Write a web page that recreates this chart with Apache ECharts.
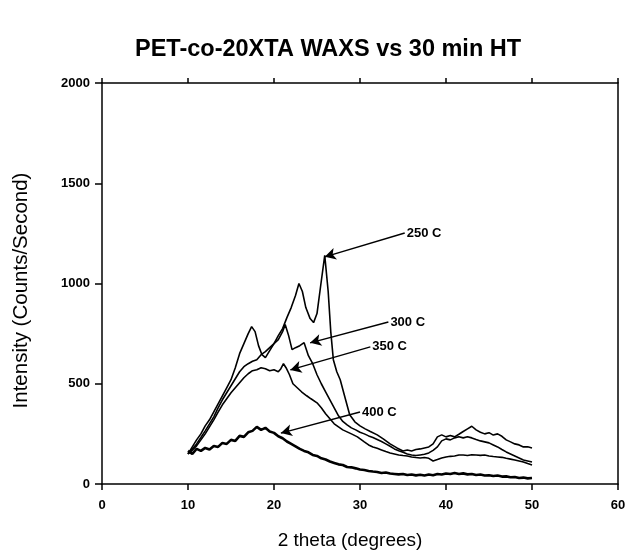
<!DOCTYPE html>
<html>
<head>
<meta charset="utf-8">
<script src="https://cdn.jsdelivr.net/npm/echarts@6/dist/echarts.min.js"></script>
<style>html,body{margin:0;padding:0;background:#fff;}#c{width:629px;height:550px;}</style>
</head>
<body>
<div id="c"></div>
<script>
// ---- data (2 theta in degrees, intensity in counts/second) ----
const xTicks = [0, 10, 20, 30, 40, 50, 60];
const yTicks = [0, 500, 1000, 1500, 2000];

const c250 = [[10,150],[10.5,185],[11,220],[11.5,250],[12,290],[12.5,320],[13,360],[13.5,400],[14,440],[14.5,480],[15,520],[15.5,580],[16,650],[16.5,700],[17,750],[17.4,785],[17.8,760],[18.2,690],[18.6,645],[19,630],[19.5,665],[20,700],[20.5,740],[21,775],[21.5,830],[22,880],[22.5,940],[22.9,1000],[23.3,960],[23.7,880],[24.2,825],[24.6,805],[25,850],[25.4,980],[25.9,1140],[26.3,960],[26.6,760],[26.9,620],[27.3,560],[27.7,520],[28.2,440],[28.8,345],[29.4,310],[30,290],[30.6,275],[31.2,262],[32,245],[32.7,225],[33.5,200],[34.3,180],[35,165],[35.5,170],[36,165],[36.5,172],[37,175],[37.5,180],[38,185],[38.5,200],[39,235],[39.5,245],[40,235],[40.5,242],[41,235],[41.5,248],[42,262],[42.5,275],[43,288],[43.5,270],[44,258],[44.5,250],[45,256],[45.5,244],[46,250],[46.5,238],[47,220],[47.5,210],[48,200],[48.5,195],[49,185],[49.5,186],[50,180]];

const c300 = [[10,150],[10.5,175],[11,200],[11.5,232],[12,265],[12.5,300],[13,335],[13.5,380],[14,420],[14.5,455],[15,490],[15.5,525],[16,560],[16.5,585],[17,600],[17.5,612],[18,620],[18.5,645],[19,660],[19.5,680],[20,700],[20.5,720],[21,760],[21.3,795],[21.7,740],[22.1,670],[22.5,680],[23,690],[23.5,705],[24,640],[24.5,600],[25,545],[25.5,500],[26,460],[26.5,420],[27,380],[27.5,340],[28,312],[28.5,295],[29,280],[29.5,270],[30,258],[30.5,250],[31,240],[31.5,232],[32,222],[32.5,212],[33,200],[33.5,188],[34,175],[34.5,166],[35,158],[35.5,150],[36,145],[36.5,142],[37,145],[37.5,148],[38,155],[38.5,168],[39,185],[39.5,215],[40,225],[40.5,220],[41,230],[41.5,236],[42,230],[42.5,236],[43,230],[43.5,222],[44,215],[44.5,210],[45,205],[45.5,195],[46,185],[46.5,172],[47,160],[47.5,150],[48,140],[48.5,130],[49,120],[49.5,115],[50,110]];

const c350 = [[10,150],[10.5,168],[11,190],[11.5,220],[12,250],[12.5,285],[13,320],[13.5,358],[14,395],[14.5,425],[15,455],[15.5,480],[16,505],[16.5,530],[17,550],[17.5,565],[18,570],[18.5,580],[19,575],[19.5,565],[20,570],[20.5,560],[20.8,575],[21.1,600],[21.4,580],[21.8,545],[22.2,500],[22.7,480],[23.2,460],[23.8,440],[24.3,425],[25,405],[25.5,380],[26,350],[26.5,325],[27,300],[27.5,285],[28,270],[28.5,260],[29,250],[29.7,235],[30.5,210],[31,195],[31.5,185],[32,178],[32.5,170],[33,162],[33.5,155],[34,150],[34.5,145],[35,142],[35.5,140],[36,135],[36.5,132],[37,130],[37.5,132],[38,128],[38.5,115],[39,122],[39.5,130],[40,135],[40.5,138],[41,140],[41.5,145],[42,145],[42.5,142],[43,146],[43.5,145],[44,143],[44.5,145],[45,140],[45.5,137],[46,135],[46.5,133],[47,128],[47.5,124],[48,120],[48.5,115],[49,110],[49.5,102],[50,95]];

const c400 = [[10,165],[10.5,150],[11,175],[11.5,165],[12,180],[12.5,172],[13,190],[13.5,185],[14,205],[14.5,200],[15,220],[15.5,215],[16,240],[16.5,235],[17,258],[17.5,265],[18,285],[18.5,270],[19,280],[19.5,262],[20,255],[20.5,238],[21,228],[21.5,212],[22,200],[22.5,188],[23,175],[23.5,165],[24,158],[24.5,145],[25,140],[25.5,128],[26,122],[26.5,112],[27,105],[27.5,98],[28,95],[28.5,85],[29,83],[29.5,78],[30,72],[30.5,70],[31,65],[31.5,62],[32,60],[32.5,55],[33,57],[33.5,52],[34,50],[34.5,48],[35,50],[35.5,45],[36,47],[36.5,43],[37,46],[37.5,42],[38,47],[38.5,44],[39,50],[39.5,47],[40,52],[40.5,50],[41,55],[41.5,50],[42,53],[42.5,48],[43,50],[43.5,45],[44,47],[44.5,42],[45,44],[45.5,40],[46,42],[46.5,37],[47,38],[47.5,34],[48,35],[48.5,30],[49,32],[49.5,28],[50,30]];

const seriesNames = ['250 C', '300 C', '350 C', '400 C'];
// annotation arrows: [tail, tip] in data coordinates, label placed at tail
const arrowTails = [[35.2, 1252], [33.3, 808], [31.2, 684], [30.0, 359]];
const arrowTips  = [[25.9, 1133], [24.2, 704], [21.9, 569], [20.8, 254]];

// ---- chart ----
const FONT = 'Liberation Sans, Arial, Helvetica, sans-serif';
const chart = echarts.init(document.getElementById('c'), null, {renderer: 'canvas'});
const curves = [c250, c300, c350, c400];

const series = curves.map((d, i) => ({
  name: seriesNames[i],
  type: 'line',
  data: d,
  showSymbol: false,
  symbol: 'none',
  smooth: false,
  lineStyle: {color: '#000', width: i === 3 ? 2.6 : 1.6},
  z: 3,
  markLine: {
    silent: true,
    symbol: ['none', 'arrow'],
    symbolSize: [9, 11],
    lineStyle: {color: '#000', width: 1.4, type: 'solid'},
    label: {show: false},
    data: [[{coord: arrowTails[i]}, {coord: arrowTips[i]}]]
  },
  markPoint: {
    silent: true,
    symbol: 'circle',
    symbolSize: 0,
    data: [{
      coord: arrowTails[i],
      label: {
        show: true, position: 'right', distance: 2,
        formatter: seriesNames[i],
        color: '#000', fontFamily: FONT, fontWeight: 'bold', fontSize: 13
      }
    }]
  }
}));

const axisLine = {show: true, onZero: false, lineStyle: {color: '#000', width: 1.5}};

chart.setOption({
  animation: false,
  backgroundColor: '#fff',
  title: {
    text: 'PET-co-20XTA WAXS vs 30 min HT',
    left: 130,
    top: 33,
    textStyle: {fontFamily: FONT, fontWeight: 'bold', fontSize: 23.5, color: '#000'}
  },
  grid: {left: 102, right: 11, top: 83, bottom: 66, containLabel: false, outerBoundsMode: 'none'},
  xAxis: [{
    type: 'value', position: 'bottom', min: 0, max: 60, interval: 10,
    axisLine: axisLine,
    axisTick: {show: true, length: 6, lineStyle: {color: '#000', width: 1.5}},
    axisLabel: {color: '#000', fontFamily: FONT, fontWeight: 'bold', fontSize: 13, margin: 15,
      formatter: v => xTicks.includes(v) ? String(v) : ''},
    splitLine: {show: false},
    name: '2 theta (degrees)', nameLocation: 'middle', nameGap: 47,
    nameTextStyle: {color: '#000', fontFamily: FONT, fontSize: 19, padding: [0, 20, 0, 0]}
  }, {
    type: 'value', position: 'top', min: 0, max: 60, interval: 10,
    axisLine: axisLine,
    axisTick: {show: true, length: 5, lineStyle: {color: '#000', width: 1.5}},
    axisLabel: {show: false},
    splitLine: {show: false}
  }],
  yAxis: [{
    type: 'value', position: 'left', min: 0, max: 2000, interval: 500,
    axisLine: axisLine,
    axisTick: {show: true, length: 7, lineStyle: {color: '#000', width: 1.5}},
    axisLabel: {color: '#000', fontFamily: FONT, fontWeight: 'bold', fontSize: 13, margin: 12,
      formatter: v => yTicks.includes(v) ? String(v) : ''},
    splitLine: {show: false},
    name: 'Intensity (Counts/Second)', nameLocation: 'middle', nameGap: 70,
    nameTextStyle: {color: '#000', fontFamily: FONT, fontSize: 20.5, padding: [0, 14, 0, 0]}
  }, {
    type: 'value', position: 'right', min: 0, max: 2000, interval: 500,
    axisLine: axisLine,
    axisTick: {show: false},
    axisLabel: {show: false},
    splitLine: {show: false}
  }],
  series: series
});
</script>
</body>
</html>
